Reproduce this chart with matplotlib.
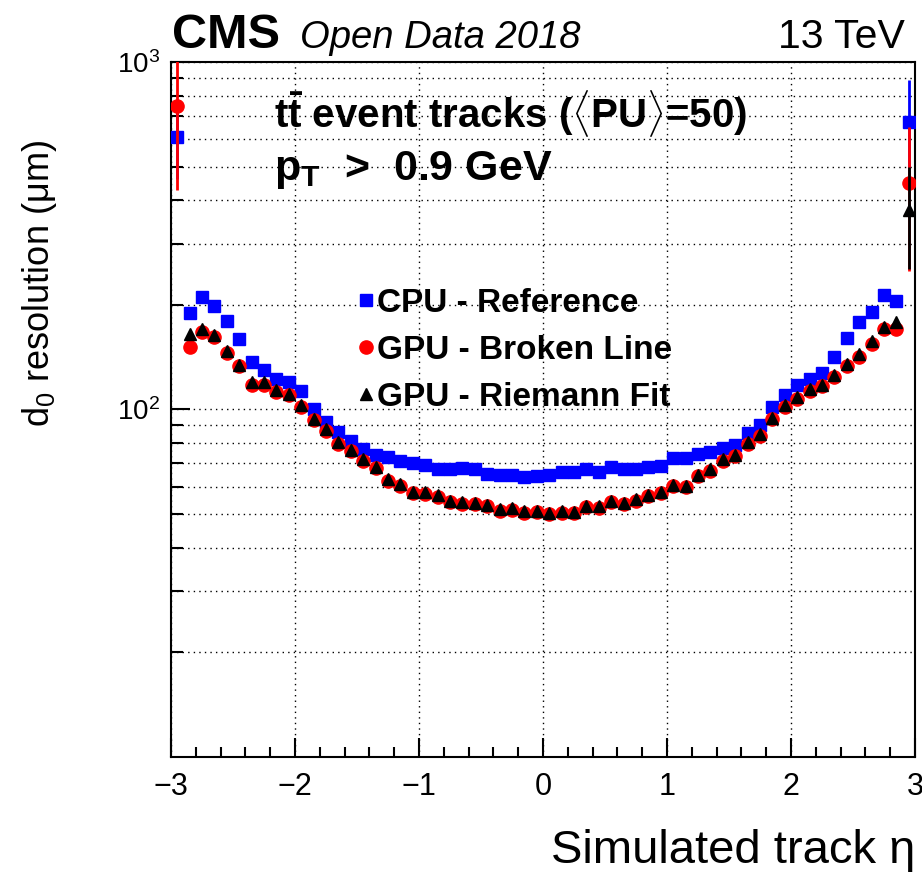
"""
d0 resolution vs simulated track eta, CMS Open Data 2018 style.
Three fitters: CPU reference, GPU broken line, GPU Riemann fit.
"""

import numpy as np
import matplotlib
matplotlib.use("Agg")
import matplotlib.pyplot as plt
from matplotlib.ticker import FixedLocator, MultipleLocator, NullFormatter

plt.rcParams["font.family"] = ["Liberation Sans", "DejaVu Sans"]
plt.rcParams["mathtext.fontset"] = "custom"
plt.rcParams["mathtext.rm"] = "Liberation Sans"
plt.rcParams["mathtext.it"] = "Liberation Sans:italic"
plt.rcParams["mathtext.bf"] = "Liberation Sans:bold"

# 60 bins of width 0.1 in eta
ETA = np.linspace(-2.95, 2.95, 60)

CPU_REF = [
    610, 190, 211, 198, 180, 160, 137, 130, 122, 120,
    113, 100, 92, 86, 81, 77, 74, 73, 71, 70,
    69, 67.6, 67.2, 68, 67.2, 65.4, 64.6, 64.6, 63.8, 64.2,
    64.6, 65.9, 66.0, 67.6, 66.3, 68.1, 67.2, 67.4, 68.5, 68.7,
    72.3, 72.7, 74.7, 75.3, 77.7, 78.8, 85.3, 90.5, 102, 110.4,
    118, 122, 127, 142, 161, 178, 191, 214, 205, 674,
]
GPU_BL = [
    745, 151, 167, 162, 145, 133, 118, 118, 112, 110,
    102, 93, 87, 79.5, 76, 71.3, 67.8, 62.3, 60.4, 57.5,
    57.2, 56.1, 54.0, 53.6, 53.3, 52.6, 51.2, 51.5, 50.5, 50.8,
    50.0, 50.5, 50.3, 52.5, 52.2, 54.0, 53.3, 54.7, 56.5, 57.5,
    60.1, 59.9, 64.5, 66.6, 71.2, 73.6, 79.8, 84.1, 94.0, 101.8,
    107.4, 113.3, 117.0, 124, 133, 142, 154, 170, 170, 450,
]
GPU_RF = [
    np.nan, 165, 170, 164, 147, 134, 120, 120, 114, 111,
    103, 94, 88, 80.4, 76.7, 72, 68.3, 62.9, 60.9, 58.0,
    57.7, 56.6, 54.4, 54.0, 53.7, 53.0, 51.6, 51.9, 50.9, 51.2,
    50.4, 50.9, 50.7, 52.9, 52.6, 54.4, 53.7, 55.1, 56.9, 58.0,
    60.6, 60.4, 65.0, 67.2, 71.8, 74.2, 80.4, 84.8, 94.8, 102.7,
    108.3, 114.2, 118.0, 126, 135, 144, 157, 173, 178, 376,
]

# only the edge bins have visible uncertainties
CPU_ERR = np.zeros(60)
BL_ERR = np.zeros(60)
RF_ERR = np.zeros(60)
CPU_ERR[[0, 59]] = [150, 215]
BL_ERR[[0, 59]] = [318, 200]
RF_ERR[59] = 122

LABELS = ["CPU - Reference", "GPU - Broken Line", "GPU - Riemann Fit"]

fig = plt.figure(figsize=(9.22, 8.72), dpi=100)
ax = fig.add_axes([171 / 922, 1 - 757 / 872, 744 / 922, 695 / 872])

h_cpu = ax.errorbar(ETA, CPU_REF, yerr=CPU_ERR, fmt="s", color="#0000ff",
                    ms=9, elinewidth=2, capsize=0, zorder=3)
h_bl = ax.errorbar(ETA, GPU_BL, yerr=BL_ERR, fmt="o", color="#ff0000",
                   ms=9.5, elinewidth=2, capsize=0, zorder=4)
h_rf = ax.errorbar(ETA, GPU_RF, yerr=RF_ERR, fmt="^", color="black",
                   ms=8.5, elinewidth=2, capsize=0, zorder=5)

ax.set_yscale("log")
ax.set_xlim(-3, 3)
ax.set_ylim(10, 1000)

ax.xaxis.set_major_locator(MultipleLocator(1))
ax.xaxis.set_minor_locator(MultipleLocator(0.2))
ax.yaxis.set_major_locator(FixedLocator([100, 1000]))
ax.yaxis.set_minor_locator(FixedLocator([k * 10 ** d for d in (1, 2) for k in range(2, 10)]))
ax.yaxis.set_minor_formatter(NullFormatter())

ax.tick_params(which="both", direction="in", top=False, right=False, width=1.5)
ax.tick_params(axis="x", which="major", length=14, labelsize=22, pad=11)
ax.tick_params(axis="x", which="minor", length=7)
ax.tick_params(axis="y", which="major", length=14, labelsize=20, pad=8)
ax.tick_params(axis="y", which="minor", length=8.5)
for sp in ax.spines.values():
    sp.set_linewidth(1.5)

dots = (0, (1, 3))
ax.grid(True, axis="x", which="major", ls=dots, color="black", lw=1)
ax.grid(True, axis="y", which="both", ls=dots, color="black", lw=1)

ax.set_xlabel("Simulated track η", fontsize=34, loc="right")
ax.xaxis.set_label_coords(1.0, -0.103)
ax.set_ylabel("d$_0$ resolution (μm)", fontsize=26, loc="top")
ax.yaxis.set_label_coords(-0.15, 0.888)

ax.legend([h_cpu[0], h_bl[0], h_rf[0]], LABELS, loc="upper left",
          bbox_to_anchor=(0.249, 0.675), frameon=False, borderpad=0,
          borderaxespad=0, handlelength=0.6, handletextpad=0.02,
          labelspacing=0.48, prop={"weight": "bold", "size": 24})

ax.text(0.138, 0.905, r"$\mathbf{t\bar{t}}$ event tracks ($\langle$PU$\rangle$=50)",
        transform=ax.transAxes, fontsize=29, weight="bold", va="baseline")
ax.text(0.138, 0.83, r"p$_\mathbf{T}$  >  0.9 GeV",
        transform=ax.transAxes, fontsize=31, weight="bold", va="baseline")

fig.text(172 / 922, 1 - 48 / 872, "CMS", fontsize=35, weight="bold", va="baseline")
fig.text(300 / 922, 1 - 48 / 872, "Open Data 2018", fontsize=27.5, style="italic", va="baseline")
fig.text(905 / 922, 1 - 48 / 872, "13 TeV", fontsize=29.5, ha="right", va="baseline")

fig.savefig("out.png", dpi=100)
